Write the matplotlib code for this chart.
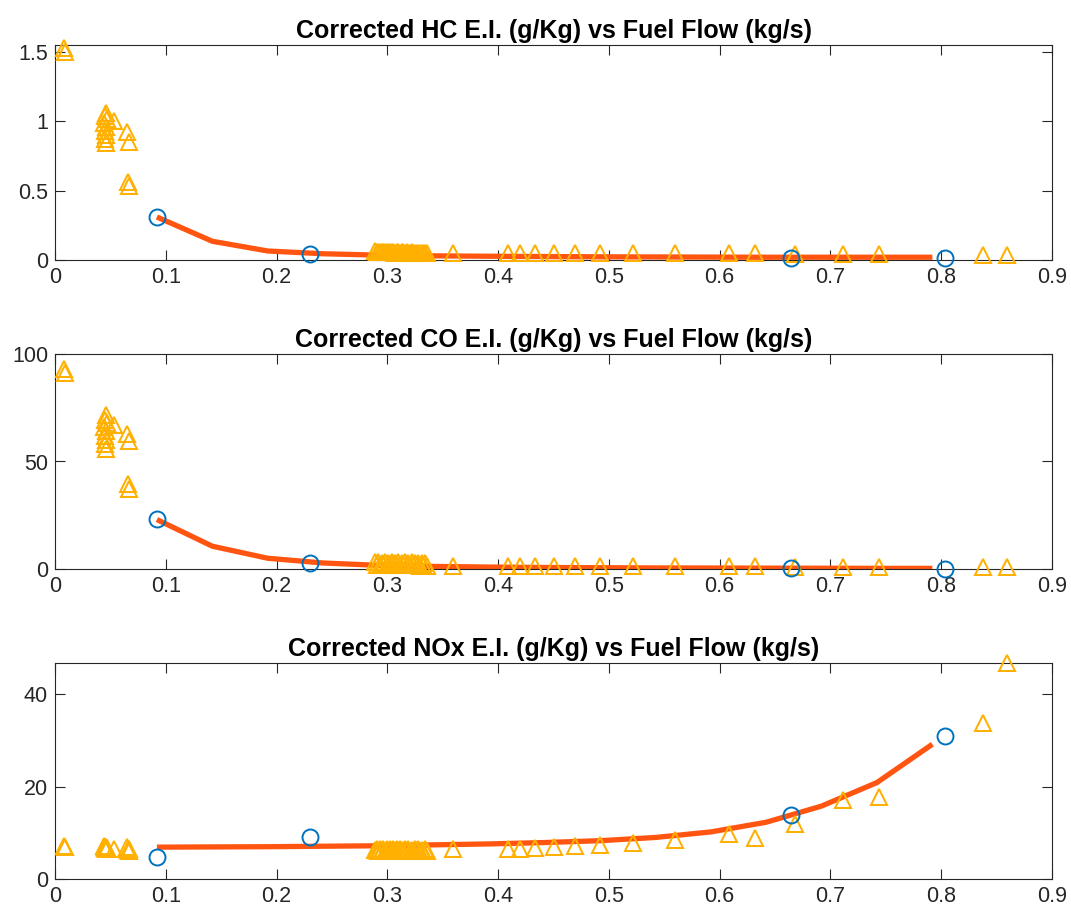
import matplotlib
matplotlib.use("Agg")
import matplotlib.pyplot as plt

plt.rcParams['font.family'] = ['Liberation Sans', 'DejaVu Sans']

# ---------------- data ----------------
# measured points (blue circles)
meas_x = [0.092, 0.230, 0.664, 0.803]
meas_hc = [0.312, 0.043, 0.013, 0.013]
meas_co = [23.1, 2.6, 0.3, 0.2]
meas_nox = [4.7, 9.0, 13.8, 31.0]

# fitted / corrected curve (red line)
fit_x = [0.092, 0.142, 0.192, 0.242, 0.292, 0.342, 0.392, 0.442, 0.492,
         0.542, 0.592, 0.642, 0.692, 0.742, 0.792]
fit_hc = [0.310, 0.135, 0.065, 0.045, 0.035, 0.030, 0.027, 0.025, 0.023,
          0.022, 0.021, 0.020, 0.020, 0.020, 0.020]
fit_co = [23.0, 10.6, 5.0, 2.8, 1.7, 1.2, 0.9, 0.7, 0.6,
          0.5, 0.45, 0.4, 0.35, 0.3, 0.3]
fit_nox = [6.9, 6.95, 7.0, 7.1, 7.2, 7.4, 7.6, 7.9, 8.3,
           9.0, 10.2, 12.3, 15.8, 20.9, 29.2]

# flight data points (yellow triangles)
tri_x = [0.008, 0.009,
         0.046, 0.045, 0.047, 0.044, 0.046, 0.045, 0.046, 0.045, 0.046,
         0.053, 0.065, 0.067, 0.066, 0.067,
         0.2890, 0.2905, 0.2920, 0.2935, 0.2950, 0.2965, 0.2980, 0.2995,
         0.3010, 0.3025, 0.3040, 0.3055, 0.3070, 0.3085, 0.3100, 0.3115,
         0.3130, 0.3145, 0.3160, 0.3175, 0.3190, 0.3205, 0.3220, 0.3235,
         0.3250, 0.3265, 0.3280, 0.3295, 0.3310, 0.3325, 0.3340, 0.3355,
         0.359, 0.409, 0.420, 0.433, 0.450, 0.469, 0.492, 0.522, 0.560,
         0.608, 0.632, 0.668, 0.711, 0.744, 0.838, 0.859]
tri_hc = [1.53, 1.50,
          1.06, 1.04, 1.02, 0.99, 0.96, 0.93, 0.90, 0.87, 0.84,
          1.00, 0.92, 0.85, 0.56, 0.53,
          0.062, 0.060, 0.058, 0.061, 0.057, 0.059, 0.056, 0.060,
          0.058, 0.055, 0.059, 0.057, 0.054, 0.058, 0.056, 0.053,
          0.057, 0.055, 0.052, 0.056, 0.054, 0.051, 0.055, 0.053,
          0.050, 0.054, 0.052, 0.049, 0.053, 0.051, 0.048, 0.050,
          0.052, 0.051, 0.051, 0.050, 0.050, 0.049, 0.049, 0.048, 0.048,
          0.047, 0.048, 0.040, 0.045, 0.045, 0.038, 0.038]
tri_co = [93.0, 91.0,
          71.5, 69.5, 68.0, 66.0, 64.0, 62.0, 60.0, 58.0, 56.0,
          67.0, 63.0, 59.5, 39.5, 37.0,
          3.2, 2.0, 3.1, 1.8, 3.0, 2.1, 3.2, 1.9,
          3.0, 2.2, 3.1, 1.8, 3.0, 2.0, 3.2, 1.9,
          3.0, 2.1, 3.1, 1.7, 3.0, 2.0, 3.1, 1.8,
          2.9, 1.9, 3.0, 1.6, 2.9, 1.8, 2.8, 1.6,
          1.6, 1.6, 1.6, 1.5, 1.5, 1.4, 1.4, 1.3, 1.2,
          1.2, 1.2, 1.0, 1.1, 1.1, 0.9, 0.9]
tri_nox = [7.2, 7.0,
           6.9, 7.0, 6.8, 7.1, 6.7, 6.9, 6.6, 6.8, 6.7,
           6.5, 7.0, 6.6, 6.3, 6.1,
           6.2, 6.4, 6.1, 6.5, 6.2, 6.6, 6.0, 6.4,
           6.3, 6.6, 6.1, 6.5, 6.2, 6.4, 6.0, 6.6,
           6.3, 6.1, 6.5, 6.2, 6.4, 6.0, 6.3, 6.1,
           6.5, 6.2, 6.4, 6.0, 6.3, 6.1, 6.4, 6.0,
           6.45, 6.6, 6.6, 6.8, 6.95, 7.15, 7.4, 7.9, 8.4,
           9.7, 8.8, 12.0, 17.1, 17.8, 33.7, 46.9]

titles = ['Corrected HC E.I. (g/Kg) vs Fuel Flow (kg/s)',
          'Corrected CO E.I. (g/Kg) vs Fuel Flow (kg/s)',
          'Corrected NOx E.I. (g/Kg) vs Fuel Flow (kg/s)']
x_ticks = [0, 0.1, 0.2, 0.3, 0.4, 0.5, 0.6, 0.7, 0.8, 0.9]
x_ticklabels = ['0', '0.1', '0.2', '0.3', '0.4', '0.5', '0.6', '0.7', '0.8', '0.9']
y_ticks = [[0, 0.5, 1, 1.5], [0, 50, 100], [0, 20, 40]]
y_ticklabels = [['0', '0.5', '1', '1.5'], ['0', '50', '100'], ['0', '20', '40']]
y_lims = [(0, 1.55), (0, 100), (0, 46.8)]

# ---------------- plot ----------------
W, H = 1071, 914
fig = plt.figure(figsize=(W / 100, H / 100), dpi=100)
fig.patch.set_facecolor('white')

axes_px = [(45, 260), (354, 569), (663, 879)]
left_px, right_px = 55, 1052

axis_col = '#262626'
tri_col = '#FFB000'
circ_col = '#0072BD'
line_col = '#FF5511'

series = [(meas_hc, fit_hc, tri_hc), (meas_co, fit_co, tri_co), (meas_nox, fit_nox, tri_nox)]

for i, (top, bot) in enumerate(axes_px):
    ax = fig.add_axes([left_px / W, 1 - bot / H, (right_px - left_px) / W, (bot - top) / H])
    meas, fit, tri = series[i]
    ax.plot(fit_x, fit, color=line_col, lw=3.8, solid_capstyle='butt', zorder=2)
    ax.plot(tri_x, tri, linestyle='none', marker='^', ms=12, mfc='none',
            mec=tri_col, mew=1.45, zorder=3, clip_on=False)
    ax.plot(meas_x, meas, linestyle='none', marker='o', ms=11.5, mfc='none',
            mec=circ_col, mew=1.4, zorder=4, clip_on=False)
    ax.set_xlim(0, 0.9)
    ax.set_ylim(*y_lims[i])
    ax.set_xticks(x_ticks)
    ax.set_xticklabels(x_ticklabels)
    ax.set_yticks(y_ticks[i])
    ax.set_yticklabels(y_ticklabels[i])
    ax.tick_params(direction='in', length=7, width=0.8, colors=axis_col,
                   labelsize=15.5, top=True, right=True, pad=5)
    for sp in ax.spines.values():
        sp.set_color(axis_col)
        sp.set_linewidth(0.8)
    ax.set_title(titles[i], fontsize=18, fontweight='bold', color='black', pad=5)

fig.savefig('out.png', dpi=100, facecolor='white')
